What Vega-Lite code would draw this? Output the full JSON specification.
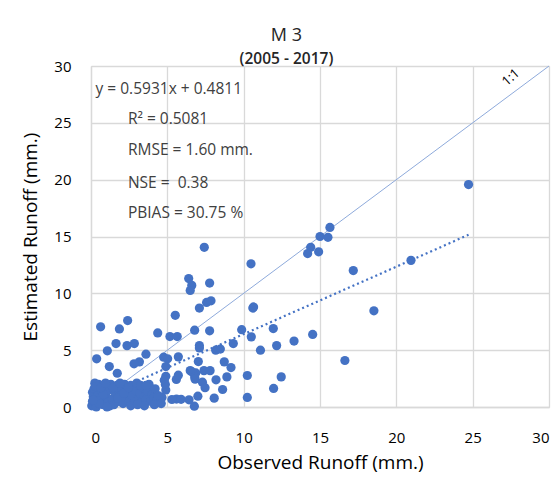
{
  "$schema": "https://vega.github.io/schema/vega-lite/v6.json",
  "width": 458,
  "height": 341,
  "autosize": {"type": "none"},
  "padding": {"left": 91, "top": 66, "right": 10, "bottom": 75},
  "background": "white",
  "title": {
    "text": "M 3",
    "subtitle": "(2005 - 2017)",
    "anchor": "middle",
    "frame": "bounds",
    "font": "Open Sans",
    "fontSize": 18,
    "fontWeight": "normal",
    "color": "#262626",
    "subtitleFont": "Open Sans",
    "subtitleFontSize": 15.5,
    "subtitleFontWeight": 600,
    "subtitleColor": "#262626",
    "subtitlePadding": 7,
    "offset": -8
  },
  "config": {
    "view": {"stroke": "#d9d9d9"},
    "font": "Open Sans",
    "axis": {
      "grid": true,
      "gridColor": "#d9d9d9",
      "gridWidth": 1.3,
      "domainColor": "#d9d9d9",
      "domainWidth": 1.3,
      "ticks": false,
      "labelFont": "Open Sans",
      "labelFontSize": 15,
      "labelColor": "#000000",
      "titleFont": "Open Sans",
      "titleFontSize": 19,
      "titleFontWeight": "normal",
      "titleColor": "#000000"
    }
  },
  "datasets": {
    "pts": [
      {"obs": 24.73, "est": 19.57}, {"obs": 15.65, "est": 15.8}, {"obs": 15.0, "est": 15.0}, {"obs": 15.52, "est": 14.93},
      {"obs": 14.39, "est": 14.05}, {"obs": 14.19, "est": 13.5}, {"obs": 14.91, "est": 13.65}, {"obs": 20.96, "est": 12.9},
      {"obs": 17.18, "est": 12.0}, {"obs": 18.53, "est": 8.46}, {"obs": 14.52, "est": 6.38}, {"obs": 16.63, "est": 4.09},
      {"obs": 7.42, "est": 14.05}, {"obs": 10.48, "est": 12.6}, {"obs": 6.4, "est": 11.3}, {"obs": 6.6, "est": 10.7},
      {"obs": 6.5, "est": 10.25}, {"obs": 7.77, "est": 10.9}, {"obs": 7.1, "est": 8.7}, {"obs": 7.57, "est": 9.2},
      {"obs": 7.86, "est": 9.34}, {"obs": 10.6, "est": 8.7}, {"obs": 10.65, "est": 8.8}, {"obs": 5.52, "est": 8.07},
      {"obs": 2.4, "est": 7.6}, {"obs": 0.63, "est": 7.05}, {"obs": 1.86, "est": 6.87}, {"obs": 4.37, "est": 6.52},
      {"obs": 6.79, "est": 6.76}, {"obs": 7.77, "est": 6.7}, {"obs": 9.87, "est": 6.8}, {"obs": 11.94, "est": 6.9},
      {"obs": 5.17, "est": 6.2}, {"obs": 5.65, "est": 6.2}, {"obs": 10.5, "est": 6.17}, {"obs": 1.64, "est": 5.58},
      {"obs": 2.84, "est": 5.58}, {"obs": 2.36, "est": 5.4}, {"obs": 9.32, "est": 5.58}, {"obs": 12.16, "est": 5.4},
      {"obs": 13.3, "est": 5.8}, {"obs": 7.1, "est": 5.4}, {"obs": 7.1, "est": 5.2}, {"obs": 8.17, "est": 5.0},
      {"obs": 8.47, "est": 5.1}, {"obs": 11.1, "est": 5.0}, {"obs": 1.07, "est": 4.94}, {"obs": 3.6, "est": 4.65},
      {"obs": 0.37, "est": 4.24}, {"obs": 4.76, "est": 4.38}, {"obs": 5.02, "est": 4.24}, {"obs": 5.72, "est": 4.41},
      {"obs": 3.17, "est": 3.97}, {"obs": 2.82, "est": 3.8}, {"obs": 7.03, "est": 4.0}, {"obs": 8.73, "est": 3.97},
      {"obs": 1.2, "est": 3.56}, {"obs": 4.9, "est": 3.56}, {"obs": 9.17, "est": 3.47}, {"obs": 6.5, "est": 3.2},
      {"obs": 6.86, "est": 3.0}, {"obs": 6.6, "est": 3.1}, {"obs": 7.4, "est": 3.2}, {"obs": 7.8, "est": 3.2},
      {"obs": 1.72, "est": 2.97}, {"obs": 10.24, "est": 2.77}, {"obs": 12.46, "est": 2.65}, {"obs": 4.9, "est": 2.7},
      {"obs": 4.8, "est": 2.36}, {"obs": 5.59, "est": 2.42}, {"obs": 5.72, "est": 2.8}, {"obs": 6.79, "est": 2.65},
      {"obs": 6.82, "est": 2.45}, {"obs": 8.19, "est": 2.39}, {"obs": 8.9, "est": 2.65}, {"obs": 7.3, "est": 2.18},
      {"obs": 7.47, "est": 1.7}, {"obs": 8.62, "est": 1.54}, {"obs": 11.96, "est": 1.63}, {"obs": 7.0, "est": 0.95},
      {"obs": 8.07, "est": 0.78}, {"obs": 10.24, "est": 0.84}, {"obs": 6.42, "est": 0.63}, {"obs": 6.77, "est": 0.07},
      {"obs": 5.6, "est": 0.7}, {"obs": 5.9, "est": 0.68}, {"obs": 5.3, "est": 0.66}, {"obs": 4.9, "est": 1.5},
      {"obs": 4.87, "est": 1.98}, {"obs": 4.65, "est": 0.84}, {"obs": 4.5, "est": 0.75}, {"obs": 4.2, "est": 0.8},
      {"obs": 0.05, "est": 0.1}, {"obs": 0.1, "est": 0.5}, {"obs": 0.15, "est": 0.9}, {"obs": 0.1, "est": 1.3},
      {"obs": 0.2, "est": 1.6}, {"obs": 0.3, "est": 0.3}, {"obs": 0.35, "est": 0.0}, {"obs": 0.45, "est": 1.0},
      {"obs": 0.5, "est": 2.0}, {"obs": 0.6, "est": 0.6}, {"obs": 0.7, "est": 1.4}, {"obs": 0.8, "est": 0.2},
      {"obs": 0.9, "est": 1.8}, {"obs": 1.0, "est": 0.9}, {"obs": 1.1, "est": 0.4}, {"obs": 1.2, "est": 1.5},
      {"obs": 1.3, "est": 2.0}, {"obs": 1.4, "est": 0.7}, {"obs": 1.5, "est": 0.2}, {"obs": 1.6, "est": 1.2},
      {"obs": 1.7, "est": 1.9}, {"obs": 1.8, "est": 0.5}, {"obs": 1.9, "est": 1.0}, {"obs": 2.0, "est": 1.6},
      {"obs": 2.1, "est": 0.3}, {"obs": 2.2, "est": 2.0}, {"obs": 2.3, "est": 0.8}, {"obs": 2.4, "est": 1.3},
      {"obs": 2.5, "est": 0.5}, {"obs": 2.6, "est": 1.9}, {"obs": 2.7, "est": 1.0}, {"obs": 2.8, "est": 0.3},
      {"obs": 2.9, "est": 1.5}, {"obs": 3.0, "est": 2.1}, {"obs": 3.1, "est": 0.7}, {"obs": 3.2, "est": 1.2},
      {"obs": 3.3, "est": 0.4}, {"obs": 3.4, "est": 1.7}, {"obs": 3.5, "est": 0.9}, {"obs": 3.6, "est": 0.6},
      {"obs": 3.7, "est": 1.4}, {"obs": 3.8, "est": 2.0}, {"obs": 3.9, "est": 0.5}, {"obs": 4.0, "est": 1.1},
      {"obs": 4.1, "est": 0.8}, {"obs": 4.2, "est": 1.6}, {"obs": 4.3, "est": 0.6}, {"obs": 4.4, "est": 1.0},
      {"obs": 0.25, "est": 2.1}, {"obs": 0.8, "est": 1.1}, {"obs": 1.25, "est": 0.1}, {"obs": 1.75, "est": 0.8},
      {"obs": 2.15, "est": 1.2}, {"obs": 2.6, "est": 0.1}, {"obs": 3.05, "est": 0.2}, {"obs": 3.5, "est": 0.1},
      {"obs": 0.55, "est": 0.3}, {"obs": 1.05, "est": 0.0}, {"obs": 0.3, "est": 1.8}, {"obs": 0.15, "est": 0.6},
      {"obs": 0.65, "est": 1.7}, {"obs": 1.45, "est": 1.7}, {"obs": 2.45, "est": 1.7}, {"obs": 3.25, "est": 1.9},
      {"obs": 4.15, "est": 0.2}, {"obs": 4.6, "est": 0.3}, {"obs": 0.95, "est": 2.1}, {"obs": 1.9, "est": 2.1},
      {"obs": 3.6, "est": 1.9}
    ],
    "oneone": [{"obs": 0, "est": 0}, {"obs": 30, "est": 30}],
    "trend": [{"obs": 0.05, "est": 0.511}, {"obs": 24.73, "est": 15.148}],
    "notes": [
      {"obs": 0.3, "est": 28.0, "label": "y = 0.5931x + 0.4811"},
      {"obs": 2.42, "est": 25.3, "label": "R² = 0.5081"},
      {"obs": 2.42, "est": 22.65, "label": "RMSE = 1.60 mm."},
      {"obs": 2.42, "est": 19.75, "label": "NSE = \u00a00.38"},
      {"obs": 2.42, "est": 17.1, "label": "PBIAS = 30.75 %"}
    ],
    "tag": [{"obs": 27.5, "est": 29.0, "label": "1:1"}]
  },
  "encoding": {
    "x": {"field": "obs", "type": "quantitative", "scale": {"domain": [0, 30]}, "axis": {"values": [0, 5, 10, 15, 20, 25, 30], "title": "Observed Runoff (mm.)", "labelPadding": 23, "titlePadding": 8}},
    "y": {"field": "est", "type": "quantitative", "scale": {"domain": [0, 30]}, "axis": {"values": [0, 5, 10, 15, 20, 25, 30], "title": "Estimated Runoff (mm.)", "labelPadding": 20, "titlePadding": 13}}
  },
  "layer": [
    {"data": {"name": "oneone"}, "mark": {"type": "line", "color": "#8eaadb", "strokeWidth": 1}},
    {"data": {"name": "trend"}, "mark": {"type": "line", "color": "#4472c4", "strokeWidth": 2.2, "strokeDash": [2, 3]}},
    {"data": {"name": "pts"}, "mark": {"type": "point", "filled": true, "opacity": 1, "color": "#4472c4", "size": 85}},
    {"data": {"name": "notes"}, "mark": {"type": "text", "align": "left", "baseline": "middle", "fontSize": 15.5, "font": "Open Sans", "color": "#404040"}, "encoding": {"text": {"field": "label"}}},
    {"data": {"name": "tag"}, "mark": {"type": "text", "align": "center", "baseline": "middle", "fontSize": 13, "font": "Open Sans", "color": "#000000", "angle": -42}, "encoding": {"text": {"field": "label"}}}
  ]
}
